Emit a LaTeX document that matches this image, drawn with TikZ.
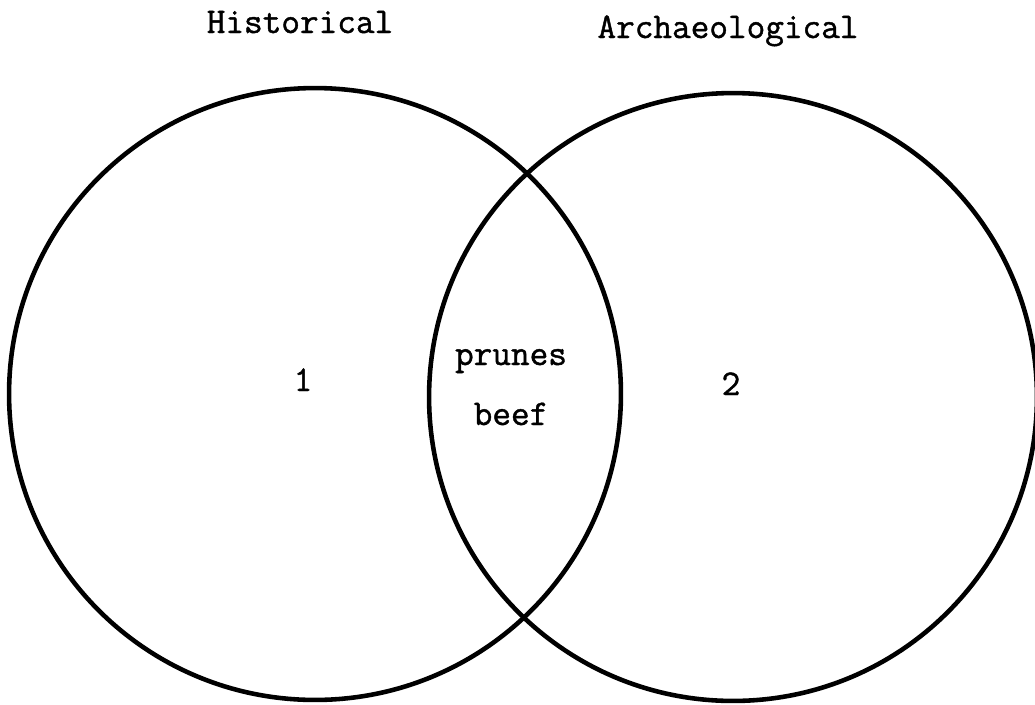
\documentclass[tikz,border=0pt]{standalone}
\usepackage{fontspec}
\newfontfamily\typew{Latin Modern Mono}[FakeBold=1.2]
\begin{document}
\tikzset{
  venn/.style={circle,draw,line width=2.6pt,inner sep=0pt},
  lbl/.style={font=\typew\fontsize{20.6}{24}\selectfont,inner sep=0pt,anchor=base},
}
\begin{tikzpicture}[x=0.02cm,y=-0.02cm]
                \useasboundingbox (0,0) rectangle (1035,704);
                % the two sets
                \node[venn,minimum size=12.24cm] (hist) at (315,394) {};
                \node[venn,minimum size=12.16cm] (arch) at (733,397) {};
                % set names
                \node[lbl] (histname) at (300,33) {Historical};
                \node[lbl] (archname) at (728,38) {Archaeological};
                % contents
                \node[lbl] (one) at (303,391) {1};
                \node[lbl] (two) at (731,395) {2};
                \node[lbl] (prunes) at (511,365) {prunes};
                \node[lbl] (beef) at (511,425) {beef};
            \end{tikzpicture}
\end{document}
